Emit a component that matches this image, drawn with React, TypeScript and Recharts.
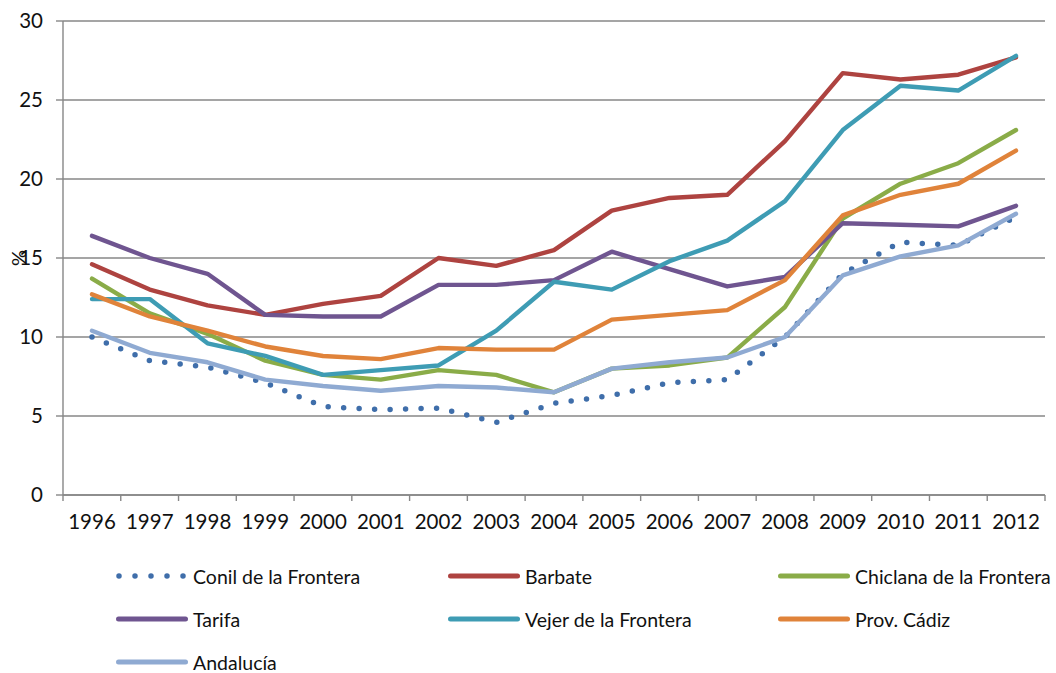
import React from "react";
import {
  LineChart,
  Line,
  XAxis,
  YAxis,
  CartesianGrid,
} from "recharts";

const years = [
  "1996", "1997", "1998", "1999", "2000", "2001", "2002", "2003", "2004",
  "2005", "2006", "2007", "2008", "2009", "2010", "2011", "2012",
];

const conil = [10.0, 8.5, 8.1, 7.1, 5.6, 5.4, 5.5, 4.6, 5.8, 6.3, 7.1, 7.3, 10.0, 14.0, 16.0, 15.8, 17.6];
const barbate = [14.6, 13.0, 12.0, 11.4, 12.1, 12.6, 15.0, 14.5, 15.5, 18.0, 18.8, 19.0, 22.4, 26.7, 26.3, 26.6, 27.7];
const chiclana = [13.7, 11.5, 10.2, 8.5, 7.6, 7.3, 7.9, 7.6, 6.5, 8.0, 8.2, 8.7, 11.9, 17.5, 19.7, 21.0, 23.1];
const tarifa = [16.4, 15.0, 14.0, 11.4, 11.3, 11.3, 13.3, 13.3, 13.6, 15.4, 14.3, 13.2, 13.8, 17.2, 17.1, 17.0, 18.3];
const vejer = [12.4, 12.4, 9.6, 8.8, 7.6, 7.9, 8.2, 10.4, 13.5, 13.0, 14.8, 16.1, 18.6, 23.1, 25.9, 25.6, 27.8];
const cadiz = [12.7, 11.3, 10.4, 9.4, 8.8, 8.6, 9.3, 9.2, 9.2, 11.1, 11.4, 11.7, 13.6, 17.7, 19.0, 19.7, 21.8];
const andalucia = [10.4, 9.0, 8.4, 7.3, 6.9, 6.6, 6.9, 6.8, 6.5, 8.0, 8.4, 8.7, 10.0, 13.9, 15.1, 15.8, 17.8];

const yTicks = [0, 5, 10, 15, 20, 25, 30];

const series = [
  { key: "conil", name: "Conil de la Frontera", values: conil, color: "#3F6EAA", dotted: true },
  { key: "barbate", name: "Barbate", values: barbate, color: "#AE4340", dotted: false },
  { key: "chiclana", name: "Chiclana de la Frontera", values: chiclana, color: "#8AAC48", dotted: false },
  { key: "tarifa", name: "Tarifa", values: tarifa, color: "#6F5590", dotted: false },
  { key: "vejer", name: "Vejer de la Frontera", values: vejer, color: "#3E9CB4", dotted: false },
  { key: "cadiz", name: "Prov. Cádiz", values: cadiz, color: "#E0833A", dotted: false },
  { key: "andalucia", name: "Andalucía", values: andalucia, color: "#8FAAD2", dotted: false },
];

const data = years.map((year, i) => {
  // pos is only used by the hidden axis that draws ticks between categories
  const row: Record<string, string | number> = { year, pos: i + 0.5 };
  series.forEach((s) => {
    row[s.key] = s.values[i];
  });
  return row;
});

// boundary ticks between the year categories
const boundaryTicks = Array.from({ length: years.length + 1 }, (_, i) => i);

const FONT = "Lato, 'Open Sans', sans-serif";
const AXIS = "#878787";

const NoLabel = () => <g />;

function LegendBlock() {
  const cols = [116, 448, 778];
  const rows = [576, 619, 662];
  return (
    <>
      {series.map((s, i) => {
        const left = cols[i % 3];
        const top = rows[Math.floor(i / 3)];
        return (
          <div
            key={s.key}
            style={{
              position: "absolute",
              left,
              top: top - 13,
              height: 26,
              display: "flex",
              alignItems: "center",
              fontFamily: FONT,
              fontSize: 19.5,
              color: "#111",
              whiteSpace: "nowrap",
            }}
          >
            <svg width={72} height={10} style={{ marginRight: 5 }}>
              {s.dotted ? (
                <line
                  x1={3}
                  y1={5}
                  x2={70}
                  y2={5}
                  stroke={s.color}
                  strokeWidth={5.5}
                  strokeLinecap="round"
                  strokeDasharray="0 16"
                />
              ) : (
                <line
                  x1={2.5}
                  y1={5}
                  x2={69.5}
                  y2={5}
                  stroke={s.color}
                  strokeWidth={5}
                  strokeLinecap="round"
                />
              )}
            </svg>
            <span>{s.name}</span>
          </div>
        );
      })}
    </>
  );
}

export default function App() {
  return (
    <div
      style={{
        position: "absolute",
        left: 0,
        top: 0,
        width: 1056,
        height: 673,
        background: "#fff",
      }}
    >
      <LineChart
        width={1056}
        height={673}
        data={data}
        margin={{ top: 21, right: 11, left: 0, bottom: 137 }}
      >
        <CartesianGrid
          vertical={false}
          stroke={AXIS}
          strokeWidth={1.4}
          yAxisId="y"
          xAxisId="years"
        />
        <XAxis
          xAxisId="ticks"
          dataKey="pos"
          type="number"
          domain={[0, years.length]}
          ticks={boundaryTicks}
          interval={0}
          allowDataOverflow
          height={1}
          tick={NoLabel}
          tickSize={6}
          tickLine={{ stroke: AXIS, strokeWidth: 1.4 }}
          axisLine={{ stroke: AXIS, strokeWidth: 1.4 }}
        />
        <XAxis
          xAxisId="years"
          dataKey="year"
          height={40}
          interval={0}
          padding={{ left: 29, right: 29 }}
          axisLine={false}
          tickLine={false}
          tickMargin={12}
          tick={{ fontFamily: FONT, fontSize: 20.5, fill: "#111" }}
        />
        <YAxis
          yAxisId="y"
          width={63}
          domain={[0, 30]}
          ticks={yTicks}
          interval={0}
          tickSize={7}
          tickMargin={13}
          tick={{ fontFamily: FONT, fontSize: 20.5, fill: "#111" }}
          tickLine={{ stroke: AXIS, strokeWidth: 1.4 }}
          axisLine={{ stroke: AXIS, strokeWidth: 1.4 }}
          label={{
            value: "%",
            angle: -90,
            position: "insideLeft",
            offset: 19,
            style: { fontFamily: FONT, fontSize: 20, fill: "#111", textAnchor: "middle" },
          }}
        />
        {series.map((s) => (
          <Line
            key={s.key}
            xAxisId="years"
            yAxisId="y"
            type="linear"
            dataKey={s.key}
            name={s.name}
            stroke={s.color}
            strokeWidth={s.dotted ? 5.5 : 4.4}
            strokeDasharray={s.dotted ? "0 15.5" : undefined}
            strokeLinecap="round"
            strokeLinejoin="round"
            dot={false}
            activeDot={false}
            isAnimationActive={false}
          />
        ))}
      </LineChart>
      <LegendBlock />
    </div>
  );
}
